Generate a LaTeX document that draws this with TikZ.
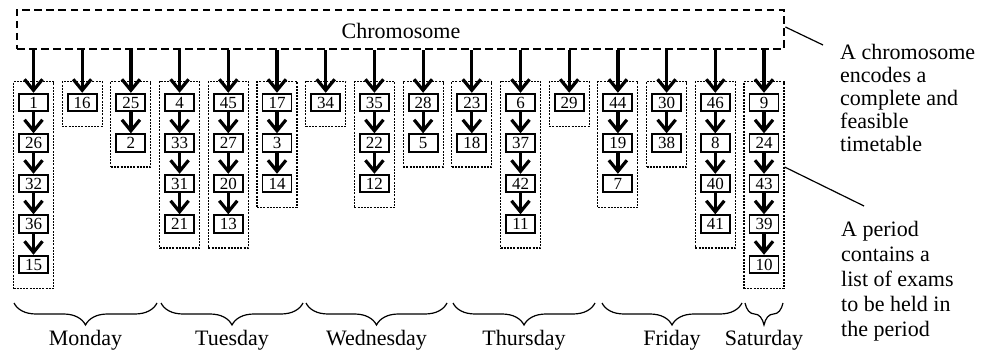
\documentclass[tikz,border=0pt]{standalone}
\usepackage{fontspec}
\setmainfont{Liberation Serif}
\usetikzlibrary{arrows.meta,decorations.pathreplacing,calc}

\begin{document}
\begin{tikzpicture}[x=1pt,y=-1pt,
  exam/.style={draw, line width=1.9pt, minimum width=29pt, minimum height=17.5pt,
    inner sep=0pt, font=\fontsize{17}{17}\selectfont},
  pbox/.style={draw, line width=1.1pt, dash pattern=on 2pt off 1.2pt,
    minimum width=40pt, inner sep=0pt, anchor=north},
  link/.style={line width=3.2pt, -{Straight Barb[length=11pt,width=18pt]}},
  brc/.style={line width=1.2pt, decorate, decoration={brace, mirror, amplitude=22pt}},
  lead/.style={line width=1.2pt},
  big/.style={font=\fontsize{22}{23}\selectfont}
]
\useasboundingbox (0,0) rectangle (990,355);

% chromosome
\node[draw, line width=2.8pt, dash pattern=on 7.5pt off 4.5pt,
  minimum width=767pt, minimum height=39pt, inner sep=0pt] (chrom) at (400.5,29.5) {};
\node[big, anchor=base] (ctext) at (401,39) {Chromosome};

% periods with their exams
\foreach \col [count=\i] in {{1,26,32,36,15},{16},{25,2},{4,33,31,21},{45,27,20,13},
    {17,3,14},{34},{35,22,12},{28,5},{23,18},{6,37,42,11},{29},{44,19,7},{30,38},
    {46,8,40,41},{9,24,43,39,10}} {
  \pgfmathsetmacro\cx{33.5+48.7*(\i-1)}
  \foreach \v [count=\k] in \col {
    \node[exam] (e-\i-\k) at (\cx,{102.5+40.5*(\k-1)}) {\v};
    \ifnum\k>1
      \pgfmathtruncatemacro\prev{\k-1}
      \draw[link] (e-\i-\prev.south) -- (e-\i-\k.north);
    \fi
    \xdef\lastk{\k}
  }
  \pgfmathsetmacro\ph{45+40.5*(\lastk-1)}
  \node[pbox, minimum height=\ph pt] (p\i) at (\cx,81) {};
  \draw[link] (e-\i-1.north |- chrom.south) -- (e-\i-1.north);
}

% days
\draw[brc] (14,303) -- (157,303);
\draw[brc] (161,303) -- (303,303);
\draw[brc] (306,303) -- (447,303);
\draw[brc] (453,303) -- (595,303);
\draw[brc] (602,303) -- (742,303);
\draw[brc] (745,303) -- (783,303);
\node[big, anchor=base] (mon) at (85.5,345) {Monday};
\node[big, anchor=base] (tue) at (232,345) {Tuesday};
\node[big, anchor=base] (wed) at (376.5,345) {Wednesday};
\node[big, anchor=base] (thu) at (524,345) {Thursday};
\node[big, anchor=base] (fri) at (672,345) {Friday};
\node[big, anchor=base] (sat) at (764,345) {Saturday};

% annotations
\coordinate (c1) at (823,45);
\coordinate (c2) at (864,206);
\draw[lead] ([yshift=2.5pt]chrom.east) -- (c1);
\draw[lead] ([yshift=-86pt]p16.north east) -- (c2);
\node[big, font=\fontsize{22}{23}\selectfont, align=left, anchor=north west, inner sep=0pt]
  (n1) at (840,44) {A chromosome\\encodes a\\complete and\\feasible\\timetable};
\node[big, font=\fontsize{22}{25}\selectfont, align=left, anchor=north west, inner sep=0pt]
  (n2) at (841,221) {A period\\contains a\\list of exams\\to be held in\\the period};
\end{tikzpicture}
\end{document}
